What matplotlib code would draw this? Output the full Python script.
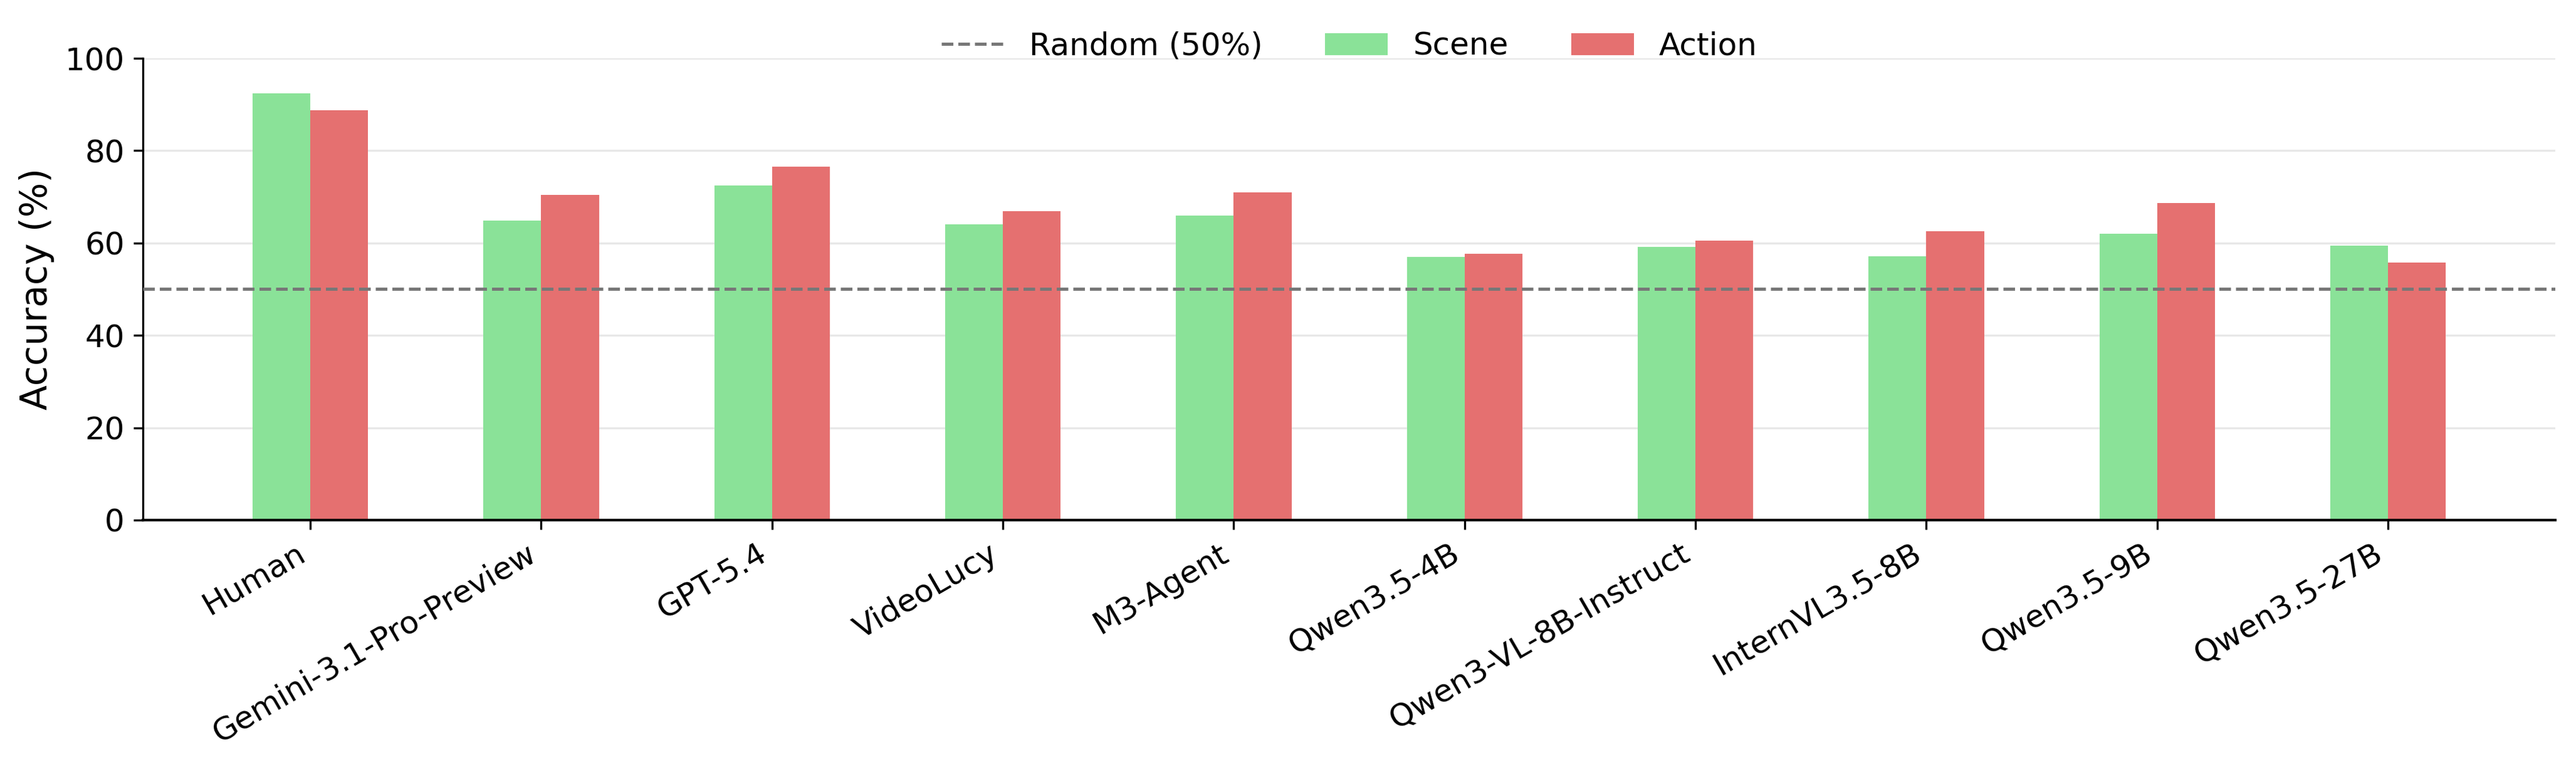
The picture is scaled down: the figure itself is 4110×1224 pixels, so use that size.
import numpy as np
import matplotlib
matplotlib.use("Agg")
import matplotlib.pyplot as plt

# accuracy per model
models = ["Human", "Gemini-3.1-Pro-Preview", "GPT-5.4", "VideoLucy", "M3-Agent",
          "Qwen3.5-4B", "Qwen3-VL-8B-Instruct", "InternVL3.5-8B", "Qwen3.5-9B", "Qwen3.5-27B"]
scene = [92.4, 64.9, 72.4, 64.1, 65.9, 57.0, 59.2, 57.1, 62.0, 59.4]
action = [88.7, 70.4, 76.5, 66.9, 70.9, 57.6, 60.5, 62.5, 68.7, 55.7]
random_level = 50

x = np.arange(len(models))
w = 0.25

fig, ax = plt.subplots(figsize=(13.7, 4.08), dpi=300)
fig.subplots_adjust(left=0.0555, right=0.992, top=0.924, bottom=0.322)

ax.axhline(random_level, color="#777777", linestyle="--", linewidth=1.2,
           label="Random (50%)", zorder=3)
ax.bar(x - w / 2, scene, w, color="#8ae298", label="Scene", zorder=2)
ax.bar(x + w / 2, action, w, color="#e57070", label="Action", zorder=2)

ax.set_ylim(0, 100)
ax.set_yticks([0, 20, 40, 60, 80, 100])
ax.set_ylabel("Accuracy (%)", fontsize=14)
ax.set_xticks(x)
ax.set_xticklabels(models, rotation=30, ha="right", fontsize=12)
ax.tick_params(axis="y", labelsize=12)

ax.grid(axis="y", color="#e8e8e8", linewidth=0.8, zorder=0)
ax.set_axisbelow(True)
ax.spines["top"].set_visible(False)
ax.spines["right"].set_visible(False)
ax.spines["bottom"].set_linewidth(1.0)

ax.legend(loc="upper center", bbox_to_anchor=(0.5, 1.12), ncol=3,
          frameon=False, fontsize=12, handlelength=2.0, columnspacing=2.0)

fig.savefig("out.png", dpi=300)
